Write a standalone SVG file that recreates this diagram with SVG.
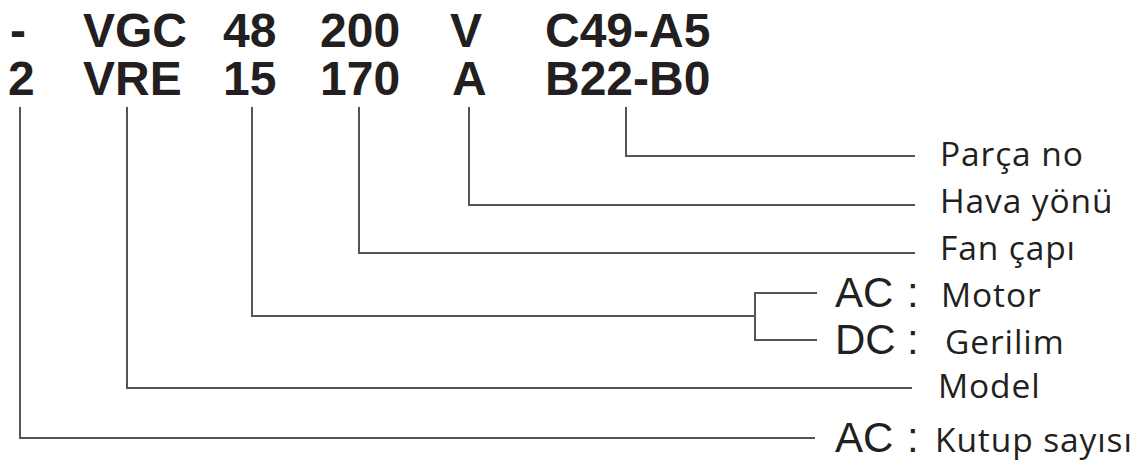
<svg xmlns="http://www.w3.org/2000/svg" width="1147" height="461" viewBox="0 0 1147 461">
<style>
.code{font-family:"Liberation Sans",Arial,sans-serif;font-weight:bold;font-size:48px;fill:#231f20}
.lbl{font-family:"Open Sans","Liberation Sans",sans-serif;font-size:33.5px;letter-spacing:0.9px;fill:#231f20}
.big{font-family:"Liberation Sans",Arial,sans-serif;font-size:42px;fill:#231f20}
.ln{fill:none;stroke:#555;stroke-width:2}
</style>
<rect width="1147" height="461" fill="#fff"/>
<g id="code">
<text class="code" x="10" y="47">-</text>
<text class="code" x="83" y="47">VGC</text>
<text class="code" x="223" y="47">48</text>
<text class="code" x="320" y="47">200</text>
<text class="code" x="450" y="47">V</text>
<text class="code" x="545" y="47">C49-A5</text>
<text class="code" x="8" y="95">2</text>
<text class="code" x="83" y="95">VRE</text>
<text class="code" x="223" y="95">15</text>
<text class="code" x="320" y="95">170</text>
<text class="code" x="452" y="95">A</text>
<text class="code" x="545" y="95">B22-B0</text>
</g>
<g id="connectors">
<polyline class="ln" points="626,107 626,156 915,156"/>
<polyline class="ln" points="469,107 469,205 915,205"/>
<polyline class="ln" points="359,107 359,253 915,253"/>
<polyline class="ln" points="252,107 252,316 755,316"/>
<polyline class="ln" points="817,293 755,293 755,340 817,340"/>
<polyline class="ln" points="127,107 127,388 912,388"/>
<polyline class="ln" points="20,107 20,438 815,438"/>
</g>
<g id="labels">
<text class="lbl" x="940" y="166">Parça no</text>
<text class="lbl" x="940" y="213">Hava yönü</text>
<text class="lbl" x="940" y="260">Fan çapı</text>
<text class="big" x="835" y="307">AC</text><text class="big" x="907" y="307">:</text>
<text class="lbl" x="941" y="307">Motor</text>
<text class="big" x="835" y="354">DC</text><text class="big" x="907" y="354">:</text>
<text class="lbl" x="945" y="354">Gerilim</text>
<text class="lbl" x="938" y="398">Model</text>
<text class="big" x="835" y="452">AC</text><text class="big" x="907" y="452">:</text>
<text class="lbl" x="935" y="452">Kutup sayısı</text>
</g>
</svg>
